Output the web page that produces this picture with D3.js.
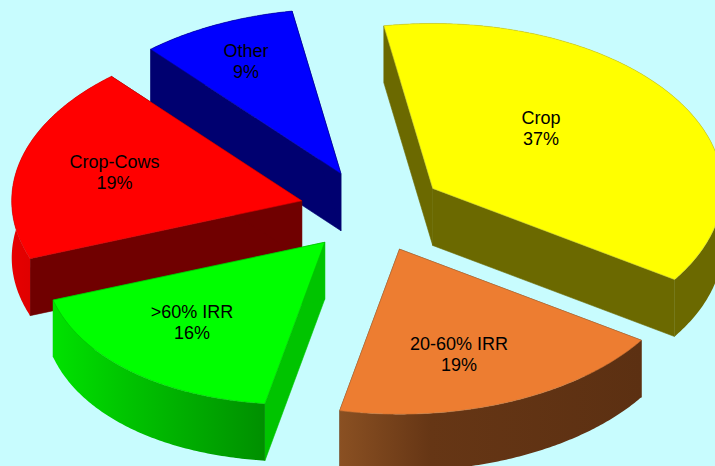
<!DOCTYPE html>
<html>
<head>
    <meta charset="utf-8" />
    <title>farm types</title>
    <script src="https://d3js.org/d3.v7.min.js"></script>
    <style>
        html, body { margin: 0; padding: 0; background: #c8fcfe; overflow: hidden; }
        text { font-family: "Liberation Sans", Arial, sans-serif; font-size: 18px; fill: #000; text-anchor: middle; }
    </style>
</head>
<body>
    <svg class="chart"></svg>
    <script>
        // values, clockwise from the Crop slice
        var categories = ["Crop", "20-60% IRR", ">60% IRR", "Crop-Cows", "Other"];
        var shares = [37, 19, 16, 19.3, 8.7];

        var svgWidth = 715, svgHeight = 466;
        var radiusX = 290, radiusY = 165, centerX = 372, centerY = 211;
        var depth = 57, explode = 0.25;
        var startAngle = -9.7 * Math.PI / 180;

        // one entry per slice, same order as categories
        var topColors = ["#ffff00", "#ed7d31", "#00ff00", "#ff0000", "#0000ff"];
        var wallColors = ["#6b6900", "#5f3110", "#00c400", "#700000", "#000070"];
        var arcColors = [
            ["#6b6900", "#6b6900", "#6b6900"],
            ["#8a5022", "#663615", "#5c3012"],
            ["#00e200", "#00c800", "#008f00"],
            ["#e60000", "#dc0000", "#d00000"],
            ["#000070", "#000070", "#000070"]
        ];
        var edgeColors = ["#d0d030", "#c87438", "#00c000", "#d80000", "#0000a0"];
        var arcBulge = [0, 0, 0.03, 0, 0];
        var labelX = [541, 459, 192, 114.5, 246];
        var labelY = [124, 350, 318, 168, 57];
        var drawOrder = [4, 0, 3, 2, 1];

        var xScale = d3.scaleLinear().domain([-1, 1]).range([centerX - radiusX, centerX + radiusX]);
        var yScale = d3.scaleLinear().domain([-1, 1]).range([centerY - radiusY, centerY + radiusY]);

        var pie = d3.pie().sort(null).startAngle(startAngle).endAngle(startAngle + 2 * Math.PI);
        var slices = pie(shares);

        var line = d3.line().x(d => d[0]).y(d => d[1]);

        var svg = d3.select(".chart").attr("width", svgWidth).attr("height", svgHeight)
            .style("display", "block");
        var defs = svg.append("defs");
        var chart = svg.append("g");

        // flat pie position -> screen, drop is how far below the top face
        function project(slice, radius, angle, drop) {
            var mid = (slice.startAngle + slice.endAngle) / 2;
            var ux = explode * Math.sin(mid) + radius * Math.sin(angle);
            var uy = -explode * Math.cos(mid) - radius * Math.cos(angle);
            return [xScale(ux), yScale(uy) + drop];
        }

        function arcPoints(slice, drop) {
            var steps = d3.range(slice.startAngle, slice.endAngle, 0.01).concat([slice.endAngle]);
            return steps.map(function (a) {
                var t = (a - slice.startAngle) / (slice.endAngle - slice.startAngle);
                return project(slice, 1 + arcBulge[slice.index] * Math.sin(Math.PI * t), a, drop);
            });
        }

        function radialWall(slice, angle) {
            return [
                project(slice, 0, angle, 0), project(slice, 1, angle, 0),
                project(slice, 1, angle, depth), project(slice, 0, angle, depth)
            ];
        }

        drawOrder.forEach(function (i) {
            var slice = slices[i];
            var g = chart.append("g").attr("class", "slice");
            var top = arcPoints(slice, 0);
            var bottom = arcPoints(slice, depth);

            [slice.startAngle, slice.endAngle].forEach(function (angle) {
                g.append("path")
                    .attr("d", line(radialWall(slice, angle)) + "Z")
                    .attr("fill", wallColors[i])
                    .attr("stroke", wallColors[i])
                    .attr("stroke-width", 0.6);
            });

            var xExtent = d3.extent(top, d => d[0]);
            var grad = defs.append("linearGradient")
                .attr("id", "arc" + i)
                .attr("gradientUnits", "userSpaceOnUse")
                .attr("x1", xExtent[0]).attr("x2", xExtent[1])
                .attr("y1", 0).attr("y2", 0);
            [0, 0.3, 1].forEach(function (offset, k) {
                grad.append("stop").attr("offset", offset).attr("stop-color", arcColors[i][k]);
            });

            g.append("path")
                .attr("d", line(top.concat(bottom.slice().reverse())) + "Z")
                .attr("fill", "url(#arc" + i + ")");

            g.append("path")
                .attr("d", line([project(slice, 0, 0, 0)].concat(top)) + "Z")
                .attr("fill", topColors[i])
                .attr("stroke", edgeColors[i])
                .attr("stroke-width", 0.6)
                .attr("stroke-linejoin", "round");
        });

        var labels = chart.selectAll(".label")
            .data(categories).enter().append("text")
                .attr("class", "label")
                .attr("x", (d, i) => labelX[i])
                .attr("y", (d, i) => labelY[i]);
        labels.append("tspan").text(d => d);
        labels.append("tspan")
            .attr("x", (d, i) => labelX[i])
            .attr("dy", 21)
            .text((d, i) => Math.round(shares[i]) + "%");
    </script>
</body>
</html>
